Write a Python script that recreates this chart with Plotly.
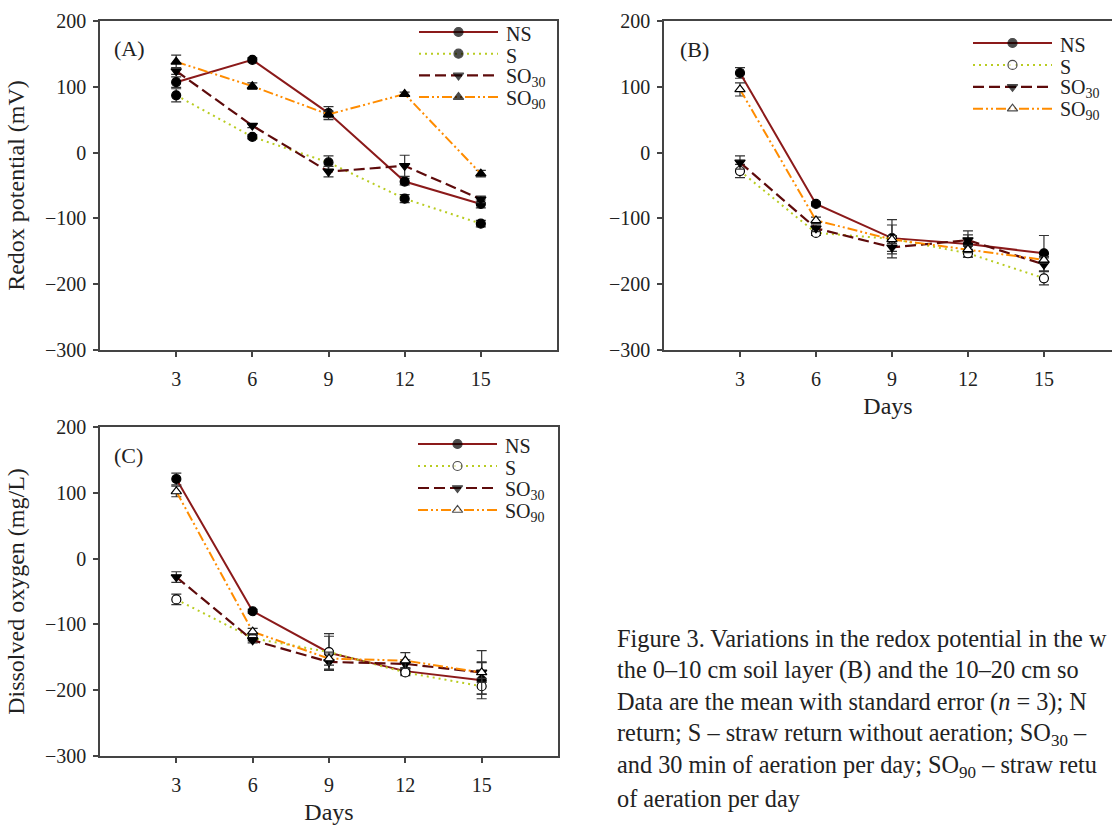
import plotly.graph_objects as go

W, H = 1112, 830

days = [3, 6, 9, 12, 15]
day_labels = ["3", "6", "9", "12", "15"]
y_ticks = [-300, -200, -100, 0, 100, 200]
series_names = ["NS", "S", "SO<sub>30</sub>", "SO<sub>90</sub>"]

# Panel A – redox potential in the water (mV)
a_ns = [107, 141, 60, -44, -78]
a_ns_err = [8, 3, 10, 5, 6]
a_s = [87, 24, -15, -70, -108]
a_s_err = [10, 3, 10, 6, 5]
a_so30 = [124, 41, -29, -20, -71]
a_so30_err = [5, 3, 8, 16, 5]
a_so90 = [138, 101, 58, 89, -32]
a_so90_err = [10, 5, 5, 3, 5]

# Panel B – 0–10 cm soil layer
b_ns = [121, -78, -130, -139, -153]
b_ns_err = [8, 3, 20, 20, 27]
b_s = [-28, -122, -131, -153, -191]
b_s_err = [10, 4, 29, 6, 10]
b_so30 = [-15, -115, -144, -133, -170]
b_so30_err = [10, 5, 10, 8, 10]
b_so90 = [96, -103, -132, -147, -163]
b_so90_err = [10, 5, 6, 5, 5]

# Panel C – 10–20 cm soil layer
c_ns = [121, -80, -143, -171, -185]
c_ns_err = [9, 3, 25, 5, 28]
c_s = [-62, -121, -142, -173, -194]
c_s_err = [8, 4, 28, 5, 12]
c_so30 = [-28, -124, -157, -160, -173]
c_so30_err = [8, 4, 12, 6, 15]
c_so90 = [102, -111, -152, -155, -173]
c_so90_err = [8, 5, 10, 12, 33]

caption_lines = [
    "Figure 3. Variations in the redox potential in the w",
    "the 0–10 cm soil layer (B) and the 10–20 cm so",
    "Data are the mean with standard error (<i>n</i> = 3); N",
    "return; S – straw return without aeration; SO<sub>30</sub> –",
    "and 30 min of aeration per day; SO<sub>90</sub> – straw retu",
    "of aeration per day",
]

FONT = "Liberation Serif"
TXT = "#222222"
C_NS = "#8b1a1a"
C_S = "#b9cc22"
C_SO30 = "#5e0b0b"
C_SO90 = "#ff8c00"
styles = [
    dict(color=C_NS, dash="solid", width=2, symbol="circle"),
    dict(color=C_S, dash="2px,4px", width=2, symbol="circle"),
    dict(color=C_SO30, dash="11px,5px", width=2.2, symbol="triangle-down"),
    dict(color=C_SO90, dash="10px,3px,2px,3px,2px,3px", width=2, symbol="triangle-up"),
]


def px_x(p):
    return p / W


def px_y(p):
    return 1 - p / H


# (data x-axis, data y-axis, legend axis suffix, values, errors, open markers,
#  legend line px x-range, first legend row px y, legend row step)
panels = [
    ("x", "y", "4", [a_ns, a_s, a_so30, a_so90],
     [a_ns_err, a_s_err, a_so30_err, a_so90_err], [False, False, False, False],
     (419, 498), 32, 21.7),
    ("x2", "y2", "5", [b_ns, b_s, b_so30, b_so90],
     [b_ns_err, b_s_err, b_so30_err, b_so90_err], [False, True, False, True],
     (973, 1052), 43, 21.9),
    ("x3", "y3", "6", [c_ns, c_s, c_so30, c_so90],
     [c_ns_err, c_s_err, c_so30_err, c_so90_err], [False, True, False, True],
     (418, 497), 444, 22.0),
]

fig = go.Figure()
annotations = []
legend_axes = {}
for xa, ya, lsuf, vals, errs, opens, lx, ly0, lstep in panels:
    for row, (name, st, v, e, op) in enumerate(zip(series_names, styles, vals, errs, opens)):
        mcol = "white" if op else "black"
        fig.add_trace(go.Scatter(
            x=days, y=v, name=name, xaxis=xa, yaxis=ya, showlegend=False,
            mode="lines+markers",
            line=dict(color=st["color"], dash=st["dash"], width=st["width"]),
            marker=dict(symbol=st["symbol"], size=9, color=mcol,
                        line=dict(color="black", width=1.2)),
            error_y=dict(type="data", array=e, visible=True,
                         color="#333333", thickness=1.2, width=5),
        ))
        # legend sample: a line across the legend axis with a marker in its middle
        fig.add_trace(go.Scatter(
            x=[0, 0.5, 1], y=[row, row, row], name=name,
            xaxis="x" + lsuf, yaxis="y" + lsuf, showlegend=False,
            mode="lines+markers", hoverinfo="skip",
            line=dict(color=st["color"], dash=st["dash"], width=st["width"]),
            marker=dict(symbol=st["symbol"], size=[0, 9, 0], color=mcol,
                        line=dict(color="black", width=[0, 1.2, 0])),
        ))
        annotations.append(dict(
            text=name, xref="x" + lsuf + " domain", yref="y" + lsuf,
            x=1, y=row, xanchor="left", yanchor="middle", xshift=6, yshift=-2,
            showarrow=False, font=dict(family=FONT, size=20, color=TXT)))
    n = len(series_names)
    legend_axes["xaxis" + lsuf] = dict(
        domain=[px_x(lx[0]), px_x(lx[1])], range=[0, 1], visible=False,
        fixedrange=True, anchor="y" + lsuf)
    legend_axes["yaxis" + lsuf] = dict(
        domain=[px_y(ly0 + lstep * (n - 0.5)), px_y(ly0 - lstep * 0.5)],
        range=[n - 0.5, -0.5], visible=False, fixedrange=True,
        anchor="x" + lsuf)

axis_common = dict(
    showgrid=False, zeroline=False, showline=True, linecolor="#444444",
    linewidth=1.5, ticks="outside", ticklen=5, tickcolor="#444444",
    tickwidth=1.5, tickfont=dict(family=FONT, size=20, color=TXT),
)

xcommon = dict(axis_common, tickvals=days, ticktext=day_labels,
               ticklabelstandoff=5)
ycommon = dict(axis_common, tickvals=y_ticks, range=[-300, 200],
               ticklabelstandoff=3)

title_font = dict(family=FONT, size=24, color=TXT)

layout = dict(
    width=W, height=H,
    margin=dict(l=0, r=0, t=0, b=0, autoexpand=False),
    paper_bgcolor="white", plot_bgcolor="rgba(0,0,0,0)",
    font=dict(family=FONT, color=TXT), showlegend=False,
    xaxis=dict(xcommon, domain=[px_x(100), px_x(557)], range=[0, 18],
               anchor="y", mirror=True),
    yaxis=dict(ycommon, domain=[px_y(350), px_y(21)], anchor="x", mirror=True,
               title=dict(text="Redox potential (mV)", font=title_font,
                          standoff=14)),
    xaxis2=dict(xcommon, domain=[px_x(664), 1.0], range=[0, (W - 664) / 25.33],
                anchor="y2", mirror=True,
                title=dict(text="Days", font=title_font, standoff=8)),
    yaxis2=dict(ycommon, domain=[px_y(350), px_y(21)], anchor="x2",
                mirror=False),
    xaxis3=dict(xcommon, domain=[px_x(100), px_x(558)], range=[0, 18],
                anchor="y3", mirror=True,
                title=dict(text="Days", font=title_font, standoff=8)),
    yaxis3=dict(ycommon, domain=[px_y(756), px_y(427)], anchor="x3",
                mirror=True,
                title=dict(text="Dissolved oxygen (mg/L)", font=title_font,
                           standoff=14)),
)
layout.update(legend_axes)
fig.update_layout(**layout)

for label, xp, yp in [("(A)", 112, 48), ("(B)", 678, 49), ("(C)", 112, 455)]:
    annotations.append(dict(text=label, x=px_x(xp), y=px_y(yp), xref="paper",
                            yref="paper", xanchor="left", yanchor="middle",
                            showarrow=False,
                            font=dict(family=FONT, size=22, color=TXT)))
for i, line in enumerate(caption_lines):
    annotations.append(dict(text=line, x=px_x(615), y=px_y(638 + 32 * i),
                            xref="paper", yref="paper", xanchor="left",
                            yanchor="middle", showarrow=False,
                            font=dict(family=FONT, size=24.3, color=TXT)))
fig.update_layout(annotations=annotations)

fig.write_html("out.html", config={"displayModeBar": False},
               post_script="document.body.style.margin='0';")
